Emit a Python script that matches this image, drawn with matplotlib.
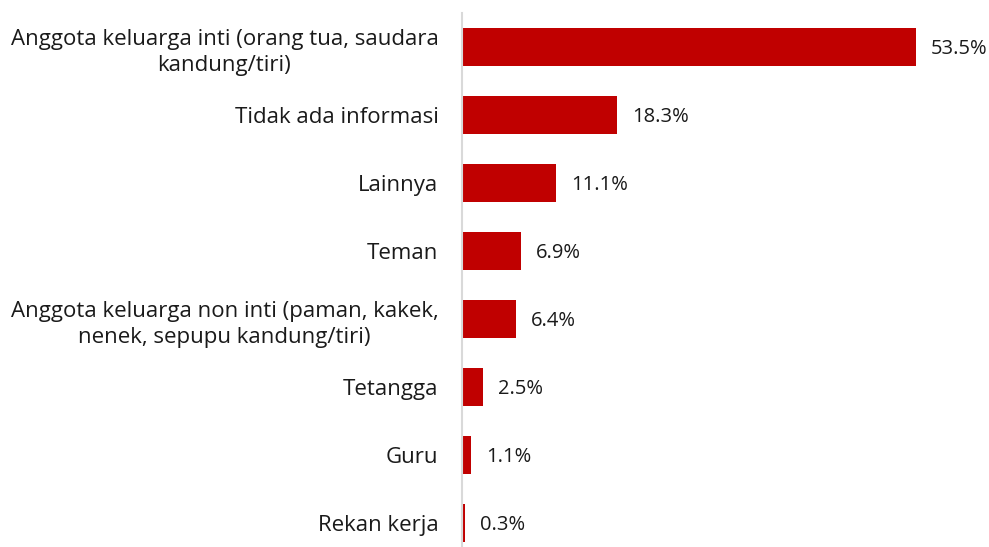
import matplotlib.pyplot as plt

plt.rcParams['font.family'] = ['Open Sans', 'DejaVu Sans']

categories = [
    'Anggota keluarga inti (orang tua, saudara\nkandung/tiri)',
    'Tidak ada informasi',
    'Lainnya',
    'Teman',
    'Anggota keluarga non inti (paman, kakek,\nnenek, sepupu kandung/tiri)',
    'Tetangga',
    'Guru',
    'Rekan kerja',
]
values = [53.5, 18.3, 11.1, 6.9, 6.4, 2.5, 1.1, 0.3]
value_labels = ['53.5%', '18.3%', '11.1%', '6.9%', '6.4%', '2.5%', '1.1%', '0.3%']

fig = plt.figure(figsize=(9.89, 5.47), dpi=100)
ax = fig.add_axes([462 / 989, 0, 518 / 989, 534 / 547])

pos = list(range(len(categories)))
ax.barh(pos, values, height=0.56, color='#c00000')

for y, v, lab in zip(pos, values, value_labels):
    ax.annotate(lab, (v, y), xytext=(15, -2), textcoords='offset pixels',
                va='center', ha='left', fontsize=14.5, color='#1a1a1a')

ax.set_yticks(pos)
ax.set_yticklabels(categories, fontsize=16, color='#1a1a1a',
                   multialignment='center', linespacing=1.35)
ax.tick_params(axis='y', length=0, pad=17)
ax.set_xticks([])
ax.set_xlim(0, 518 / (454 / 53.5))
ax.set_ylim(7.35, -0.5)

for s in ['top', 'right', 'bottom']:
    ax.spines[s].set_visible(False)
ax.spines['left'].set_color('#d9d9d9')
ax.spines['left'].set_linewidth(1.5)

fig.savefig('out.png', dpi=100)
